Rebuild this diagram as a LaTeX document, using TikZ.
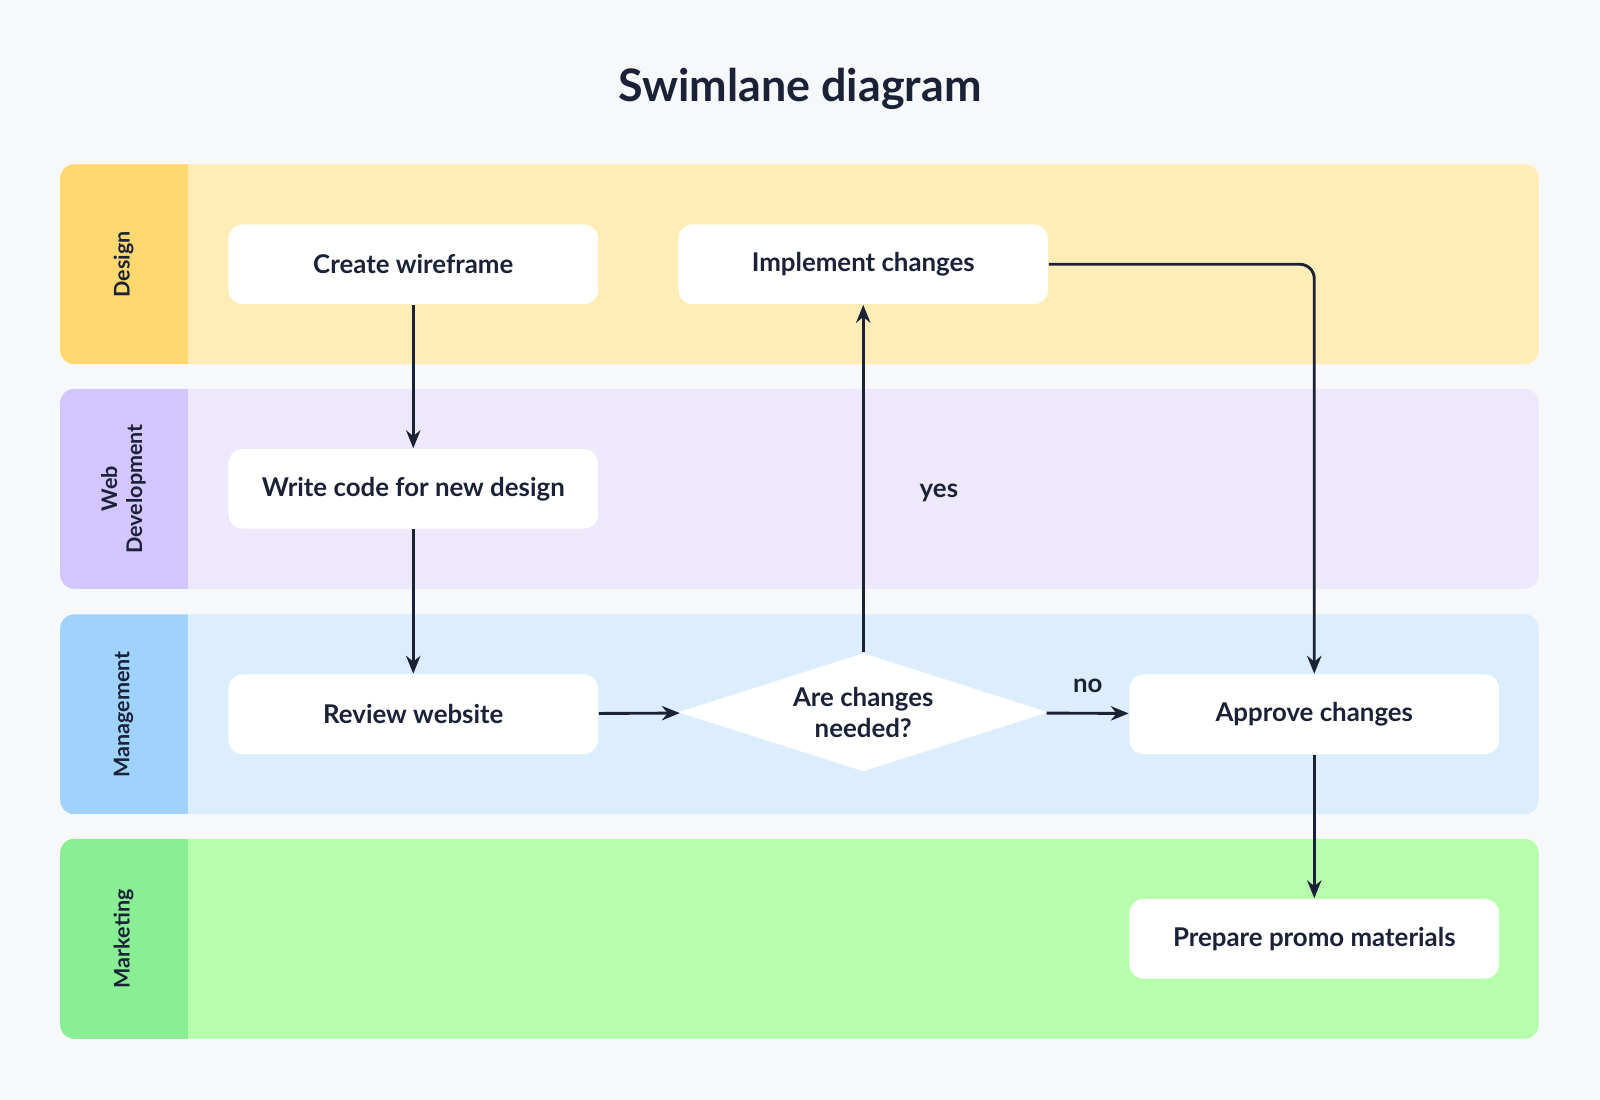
\documentclass[tikz,border=0pt]{standalone}
\usepackage{fontspec}
\setmainfont{Lato}
\usetikzlibrary{shapes.geometric,arrows.meta}
\definecolor{bgcol}{HTML}{F7F8FA}
\definecolor{inkcol}{HTML}{1B2238}
\definecolor{desbg}{HTML}{FFEDB8}
\definecolor{deslab}{HTML}{FFD970}
\definecolor{webbg}{HTML}{EEE8FD}
\definecolor{weblab}{HTML}{D3C5FD}
\definecolor{mgmbg}{HTML}{DCEEFE}
\definecolor{mgmlab}{HTML}{9FD3FE}
\definecolor{mktbg}{HTML}{B7FFAD}
\definecolor{mktlab}{HTML}{8AEE95}

\tikzset{
  task/.style={rectangle, rounded corners=4pt, fill=white, minimum width=3.62cm, minimum height=0.78cm, text=inkcol, font=\fontsize{7.2}{8}\selectfont\bfseries},
  ask/.style={diamond, fill=white, aspect=3.13, inner sep=0pt, minimum width=3.63cm, minimum height=1.16cm, text=inkcol, align=center, font=\fontsize{7.2}{8.6}\selectfont\bfseries},
  lanetxt/.style={rotate=90, text=inkcol, align=center, font=\fontsize{6}{7}\selectfont\bfseries},
  flow/.style={draw=inkcol, line width=0.8pt, -{Stealth[length=5pt,width=4pt]}}
}

\begin{document}
\begin{tikzpicture}[x=0.01cm, y=-0.01cm]
	\fill[bgcol] (0,0) rectangle (1568,1078);
	\useasboundingbox (0,0) rectangle (1568,1078);

	\node[text=inkcol, font=\fontsize{12.5}{14}\selectfont\bfseries] (title) at (784,87) {Swimlane diagram};

	% lanes
	\foreach \ytop/\bg/\lab/\name in {161/desbg/deslab/Design, 381/webbg/weblab/{Web\\Development}, 602/mgmbg/mgmlab/Management, 822/mktbg/mktlab/Marketing} {
		\fill[\bg, rounded corners=4pt] (59,\ytop) rectangle (1508,\ytop+196);
		\begin{scope}
			\clip[rounded corners=4pt] (59,\ytop) rectangle (1508,\ytop+196);
			\fill[\lab] (59,\ytop) rectangle (184,\ytop+196);
		\end{scope}
		\node[lanetxt] at (121,\ytop+98) {\name};
	}

	\node[task] (wire) at (405,259) {Create wireframe};
	\node[task] (impl) at (846,259) {Implement changes};
	\node[task] (code) at (405,479) {Write code for new design};
	\node[task] (review) at (405,700) {Review website};
	\node[ask] (needed) at (846,698) {Are changes\\needed?};
	\node[task] (approve) at (1288,700) {Approve changes};
	\node[task] (promo) at (1288,920) {Prepare promo materials};

	\draw[flow] (wire) -- (code);
	\draw[flow] (code) -- (review);
	\draw[flow] (review) -- (needed);
	\draw[flow] (needed) -- node[above, text=inkcol, font=\fontsize{7.2}{8}\selectfont\bfseries, yshift=2pt] {no} (approve);
	\draw[flow] (needed.north) -- node[right, text=inkcol, font=\fontsize{7.2}{8}\selectfont\bfseries, pos=0.46, xshift=12pt] {yes} (impl);
	\draw[flow, rounded corners=4pt] (impl.east) -| (approve.north);
	\draw[flow] (approve) -- (promo);
\end{tikzpicture}
\end{document}
